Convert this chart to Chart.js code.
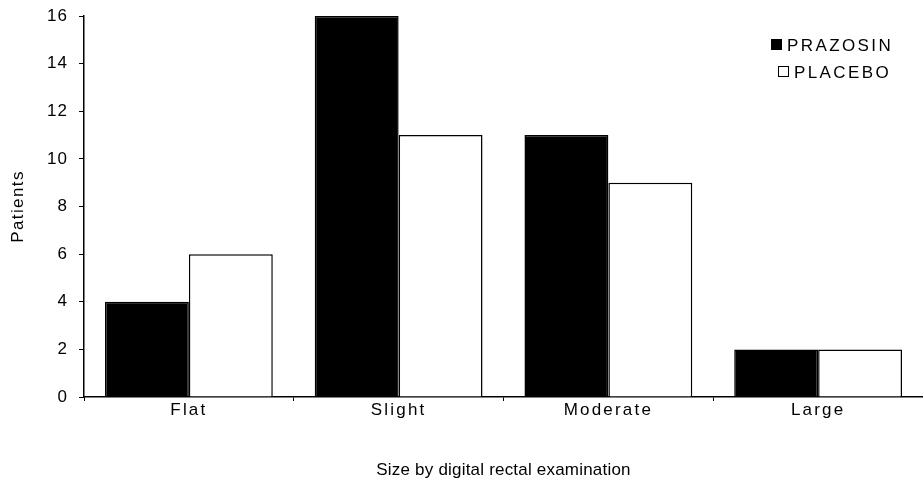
<!DOCTYPE html>
<html>
<head>
<meta charset="utf-8">
<script src="https://cdn.jsdelivr.net/npm/chart.js@4/dist/chart.umd.min.js"></script>
<style>
  html, body { margin: 0; padding: 0; background: #fff; }
  #wrap { position: relative; width: 923px; height: 493px; }
  canvas { display: block; }
  #legend { position: absolute; left: 0; top: 0; font-family: "Liberation Sans", Arial, sans-serif; font-size: 17px; letter-spacing: 2.4px; color: #000; }
  #legend div { position: absolute; white-space: nowrap; line-height: 20px; }
  #legend .sw { display: inline-block; width: 9px; height: 9px; border: 1px solid #000; margin-right: 5px; vertical-align: 1px; }
</style>
</head>
<body>
<div id="wrap">
  <canvas id="c" width="923" height="493"></canvas>
  <div id="legend"></div>
</div>
<script>
const categories = ["Flat", "Slight", "Moderate", "Large"];
const prazosin = [4, 16, 11, 2];
const placebo = [6, 11, 9, 2];
const seriesNames = ["PRAZOSIN", "PLACEBO"];
const yTitle = "Patients";
const xTitle = "Size by digital rectal examination";

const font = { family: '"Liberation Sans", Arial, sans-serif', size: 17 };

// per-element letter spacing
const origTitle = Chart.Scale.prototype.drawTitle;
Chart.Scale.prototype.drawTitle = function () {
  const c = this.ctx; const prev = c.letterSpacing;
  c.letterSpacing = this.axis === 'x' ? '0.2px' : '1.4px';
  origTitle.apply(this, arguments);
  c.letterSpacing = prev;
};
const origLabels = Chart.Scale.prototype.drawLabels;
Chart.Scale.prototype.drawLabels = function () {
  const c = this.ctx; const prev = c.letterSpacing;
  c.letterSpacing = this.axis === 'x' ? '2.2px' : '1px';
  origLabels.apply(this, arguments);
  c.letterSpacing = prev;
};

new Chart(document.getElementById('c'), {
  type: 'bar',
  data: {
    labels: categories,
    datasets: [
      { label: seriesNames[0], data: prazosin, backgroundColor: '#000', borderColor: '#000', borderWidth: 1.5 },
      { label: seriesNames[1], data: placebo, backgroundColor: '#fff', borderColor: '#000', borderWidth: 1.5 }
    ]
  },
  options: {
    responsive: false,
    animation: false,
    layout: { padding: { top: 16, right: 0, left: 0, bottom: 0 } },
    plugins: { legend: { display: false }, tooltip: { enabled: false } },
    datasets: { bar: { categoryPercentage: 0.8, barPercentage: 1.0 } },
    scales: {
      x: {
        afterFit(s) { s.height = 96; s.paddingLeft = 0; s.paddingRight = 0; },
        grid: { display: true, drawOnChartArea: false, drawTicks: true, tickLength: 4, color: '#000', offset: true },
        border: { display: true, color: '#000', width: 1.5 },
        ticks: { color: '#000', font: font, padding: -1 },
        title: { display: true, text: xTitle, color: '#000', font: font, padding: { top: 0, bottom: 12 } }
      },
      y: {
        min: 0, max: 16,
        afterFit(s) { s.width = 84; s.paddingTop = 0; s.paddingBottom = 0; },
        grid: { display: true, drawOnChartArea: false, drawTicks: true, tickLength: 5, color: '#000' },
        border: { display: true, color: '#000', width: 1.5 },
        ticks: { stepSize: 2, color: '#000', font: font, padding: 11 },
        title: { display: true, text: yTitle, color: '#000', font: font, padding: { top: 8, bottom: 0 } }
      }
    }
  }
});

const lg = document.getElementById('legend');
const fills = ['#000', '#fff'];
const legendPos = [[771, 36], [778, 63]];
seriesNames.forEach((n, i) => {
  const d = document.createElement('div');
  d.style.left = legendPos[i][0] + 'px';
  d.style.top = legendPos[i][1] + 'px';
  const sw = document.createElement('span');
  sw.className = 'sw';
  sw.style.background = fills[i];
  d.appendChild(sw);
  d.appendChild(document.createTextNode(n));
  lg.appendChild(d);
});
</script>
</body>
</html>
